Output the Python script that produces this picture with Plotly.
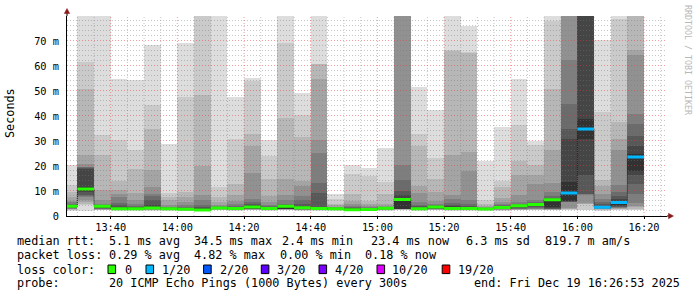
import pandas as pd
import plotly.graph_objects as go

DAY = "2025-12-19"
bar_end = ["13:30", "13:35", "13:40", "13:45", "13:50", "13:55", "14:00", "14:05",
           "14:10", "14:15", "14:20", "14:25", "14:30", "14:35", "14:40", "14:45",
           "14:50", "14:55", "15:00", "15:05", "15:10", "15:15", "15:20", "15:25",
           "15:30", "15:35", "15:40", "15:45", "15:50", "15:55", "16:00", "16:05",
           "16:10", "16:15", "16:20"]

# 20 sorted ping RTTs per 5-minute step (ms); values above 80 are clipped at the top
s1330 = [2.0, 2.3, 2.5, 2.7, 2.9, 3.0, 3.2, 3.4, 3.6, 3.8, 4.0, 4.2, 4.5, 5.0, 5.5, 5.9, 7.6, 9.6, 12.3, 20.3]
s1335 = [2.0, 4.6, 4.9, 5.5, 6.5, 7.6, 7.9, 8.3, 9.6, 10.2, 11.6, 19.0, 19.3, 19.5, 19.7, 20.7, 24.3, 50.7, 61.6, 95.0]
s1340 = [2.3, 2.4, 2.5, 2.6, 2.7, 2.8, 3.0, 3.2, 3.5, 3.8, 4.0, 4.1, 4.3, 4.5, 4.9, 6.6, 10.3, 24.3, 32.3, 95.0]
s1345 = [2.2, 2.3, 2.4, 2.5, 2.5, 2.6, 2.6, 2.7, 2.7, 2.8, 3.2, 3.8, 4.5, 5.2, 7.6, 8.9, 10.5, 14.0, 30.3, 54.9]
s1350 = [2.2, 2.3, 2.4, 2.5, 2.5, 2.6, 2.6, 2.7, 2.7, 2.8, 3.2, 3.5, 3.8, 4.2, 4.9, 6.5, 9.2, 19.0, 26.3, 54.3]
s1355 = [2.2, 2.3, 2.4, 2.5, 2.6, 2.7, 2.8, 2.9, 2.9, 3.0, 3.5, 4.5, 6.5, 8.0, 9.0, 11.6, 18.3, 34.7, 44.3, 68.5]
s1400 = [2.2, 2.3, 2.4, 2.4, 2.5, 2.5, 2.6, 2.6, 2.7, 2.8, 3.0, 3.1, 3.3, 3.5, 3.8, 4.5, 6.3, 7.6, 9.2, 28.7]
s1405 = [2.1, 2.2, 2.3, 2.3, 2.4, 2.4, 2.5, 2.5, 2.6, 2.7, 2.9, 3.1, 3.4, 3.8, 4.5, 5.6, 7.6, 9.6, 47.6, 69.3]
s1410 = [2.0, 2.1, 2.1, 2.2, 2.2, 2.3, 2.3, 2.3, 2.4, 2.4, 2.6, 3.0, 3.6, 4.5, 6.3, 8.3, 20.0, 48.3, 95.0, 95.0]
s1415 = [2.3, 2.4, 2.5, 2.6, 2.7, 2.8, 2.9, 3.0, 3.0, 3.1, 3.3, 3.4, 3.6, 3.8, 4.0, 4.5, 5.6, 7.6, 11.6, 95.0]
s1420 = [2.2, 2.3, 2.4, 2.5, 2.6, 2.6, 2.7, 2.8, 2.8, 2.9, 3.2, 3.4, 3.7, 4.2, 4.9, 6.0, 8.3, 13.0, 31.0, 47.6]
s1425 = [2.3, 2.4, 2.5, 2.6, 2.7, 2.8, 2.9, 3.0, 3.0, 3.4, 3.8, 4.3, 5.0, 5.5, 6.9, 17.3, 28.0, 32.7, 54.0, 55.2]
s1430 = [2.2, 2.3, 2.4, 2.5, 2.5, 2.6, 2.7, 2.8, 2.8, 2.9, 3.1, 3.3, 3.5, 3.9, 4.5, 5.6, 7.9, 14.9, 23.9, 30.3]
s1435 = [2.3, 2.4, 2.5, 2.6, 2.7, 2.7, 2.8, 2.8, 2.9, 3.0, 4.0, 4.2, 4.5, 5.0, 6.3, 8.3, 14.9, 39.3, 69.3, 95.0]
s1440 = [2.2, 2.3, 2.4, 2.5, 2.5, 2.6, 2.7, 2.7, 2.8, 3.0, 3.7, 4.2, 5.0, 6.3, 7.9, 11.9, 13.9, 31.6, 40.5, 49.2]
s1445 = [2.2, 2.3, 2.4, 2.4, 2.5, 2.5, 2.6, 2.7, 2.7, 2.8, 3.2, 3.6, 9.2, 13.2, 25.2, 30.3, 54.9, 60.7, 60.7, 95.0]
s1450 = [2.2, 2.3, 2.4, 2.4, 2.5, 2.5, 2.6, 2.6, 2.7, 2.8, 3.0, 3.1, 3.2, 3.3, 3.5, 3.8, 4.3, 4.9, 6.9, 8.7]
s1455 = [2.0, 2.1, 2.1, 2.2, 2.2, 2.3, 2.3, 2.3, 2.4, 2.4, 2.7, 2.9, 3.2, 3.6, 4.2, 4.9, 6.0, 9.0, 17.0, 20.3]
s1500 = [2.0, 2.1, 2.2, 2.2, 2.3, 2.3, 2.4, 2.4, 2.5, 2.5, 2.7, 2.8, 2.9, 3.1, 3.5, 4.0, 4.8, 6.0, 16.0, 19.1]
s1505 = [2.2, 2.3, 2.4, 2.5, 2.6, 2.7, 2.8, 2.8, 2.9, 3.0, 3.2, 3.3, 3.4, 3.5, 3.8, 4.2, 4.8, 8.8, 13.6, 27.3]
s1510 = [2.3, 2.5, 2.6, 2.7, 2.8, 2.9, 2.9, 3.0, 3.0, 3.0, 7.0, 8.3, 10.0, 14.3, 20.3, 95.0, 95.0, 95.0, 95.0, 95.0]
s1515 = [2.2, 2.3, 2.4, 2.5, 2.5, 2.6, 2.6, 2.7, 2.7, 2.8, 3.1, 3.4, 3.9, 4.5, 5.6, 9.2, 12.0, 28.0, 33.0, 51.5]
s1520 = [2.3, 2.4, 2.5, 2.6, 2.7, 2.8, 2.9, 3.0, 3.2, 3.4, 3.7, 3.8, 4.0, 4.4, 5.0, 6.2, 9.6, 14.9, 23.2, 42.3]
s1525 = [2.2, 2.3, 2.4, 2.5, 2.5, 2.6, 2.7, 2.8, 2.8, 2.9, 3.2, 3.9, 4.5, 5.3, 6.9, 8.3, 24.3, 66.0, 66.3, 95.0]
s1530 = [2.2, 2.3, 2.4, 2.5, 2.5, 2.6, 2.7, 2.8, 2.8, 2.9, 3.2, 3.6, 4.2, 4.7, 6.3, 18.0, 25.6, 65.3, 65.6, 76.0]
s1535 = [2.2, 2.3, 2.4, 2.4, 2.5, 2.5, 2.6, 2.6, 2.7, 2.7, 2.9, 3.0, 3.1, 3.2, 3.4, 3.6, 4.0, 4.7, 6.3, 22.0]
s1540 = [2.2, 2.3, 2.4, 2.5, 2.6, 2.7, 2.8, 2.9, 3.0, 3.3, 3.6, 3.8, 4.0, 4.3, 4.8, 5.6, 7.3, 11.8, 14.0, 35.6]
s1545 = [2.3, 2.4, 2.5, 2.6, 2.7, 2.8, 2.9, 3.1, 3.5, 4.0, 4.2, 4.4, 4.6, 5.0, 5.6, 8.3, 16.3, 22.0, 36.3, 54.8]
s1550 = [2.4, 2.5, 2.6, 2.7, 2.8, 3.0, 3.2, 3.5, 4.0, 4.4, 4.7, 4.9, 5.2, 5.6, 6.5, 13.0, 16.3, 20.3, 28.5, 30.0]
s1555 = [2.3, 2.4, 2.5, 2.6, 2.7, 2.8, 2.9, 3.0, 3.2, 3.5, 6.7, 6.9, 7.2, 8.0, 9.6, 13.2, 26.3, 51.0, 78.0, 95.0]
s1600 = [2.4, 2.6, 2.8, 3.0, 3.4, 5.5, 5.7, 5.8, 5.9, 6.0, 13.6, 30.7, 35.0, 44.7, 62.3, 95.0, 95.0, 95.0, 95.0, 95.0]
s1605 = [2.3, 2.5, 4.9, 5.0, 5.1, 8.6, 8.7, 8.9, 16.3, 31.0, 38.7, 95.0, 95.0, 95.0, 95.0, 95.0, 95.0, 95.0, 95.0, 95.0]
s1610 = [2.2, 2.4, 2.6, 2.8, 2.9, 3.0, 3.1, 3.1, 3.2, 3.3, 3.8, 4.2, 4.8, 5.6, 6.9, 8.9, 11.9, 14.5, 41.6, 70.3]
s1615 = [2.3, 2.5, 2.7, 2.9, 3.1, 3.3, 3.5, 3.8, 4.0, 4.6, 6.2, 6.9, 7.9, 9.6, 12.3, 26.3, 30.7, 37.6, 79.0, 95.0]
s1620 = [2.3, 2.6, 3.0, 3.5, 4.0, 5.2, 8.9, 12.7, 16.3, 18.0, 24.7, 28.0, 31.9, 36.9, 40.9, 64.3, 66.5, 95.0, 95.0, 95.0]

pings = [s1330, s1335, s1340, s1345, s1350, s1355, s1400, s1405, s1410, s1415,
         s1420, s1425, s1430, s1435, s1440, s1445, s1450, s1455, s1500, s1505,
         s1510, s1515, s1520, s1525, s1530, s1535, s1540, s1545, s1550, s1555,
         s1600, s1605, s1610, s1615, s1620]

median_ms = [3.9, 10.8, 3.9, 2.9, 2.9, 3.2, 2.9, 2.7, 2.4, 3.2,
             3.0, 3.6, 3.0, 3.9, 3.3, 3.0, 2.9, 2.5, 2.6, 3.1,
             6.6, 2.9, 3.6, 3.0, 3.0, 2.8, 3.4, 4.1, 4.6, 6.5,
             9.2, 34.8, 3.5, 5.4, 23.6]
loss_of20 = [0, 0, 0, 0, 0, 0, 0, 0, 0, 0,
             0, 0, 0, 0, 0, 0, 0, 0, 0, 0,
             0, 0, 0, 0, 0, 0, 0, 0, 0, 0,
             1, 1, 1, 1, 1]

loss_levels = [0, 1, 2, 3, 4, 10, 19]
loss_names = ["0", "1/20", "2/20", "3/20", "4/20", "10/20", "19/20"]
loss_colors = ["#26ff00", "#00b8ff", "#0059ff", "#5e00ff", "#7e00ff", "#dd00ff", "#ff0000"]

y_ticks = [0, 10, 20, 30, 40, 50, 60, 70]
y_labels = ["0", "10 m", "20 m", "30 m", "40 m", "50 m", "60 m", "70 m"]
x_ticks = ["13:40", "14:00", "14:20", "14:40", "15:00", "15:20", "15:40", "16:00", "16:20"]

stats_line1 = [("median rtt:", 16.4), ("5.1 ms avg", 107.6), ("34.5 ms max", 193.3),
               ("2.4 ms min", 280.9), ("23.4 ms now", 369.8), ("6.3 ms sd", 465.3),
               ("819.7 m am/s", 544.4)]
stats_line2 = [("packet loss:", 16.4), ("0.29 % avg", 107.6), ("4.82 % max", 193.3),
               ("0.00 % min", 279.0), ("0.18 % now", 364.4)]
legend_box_x = [108.0, 146.0, 203.6, 261.3, 319.0, 377.0, 442.2]
legend_text_x = [123.6, 160.9, 218.7, 276.4, 334.2, 391.1, 456.9]
probe_text = "20 ICMP Echo Pings (1000 Bytes) every 300s"
end_text = "end: Fri Dec 19 16:26:53 2025"

# ---------------------------------------------------------------------------
MONO = "DejaVu Sans Mono"
W, H = 697, 297
PL, PR, PT, PB = 67, 667, 16, 216
YMAX = 80.0

t_start = pd.Timestamp(f"{DAY} 13:26:53")
t_end = pd.Timestamp(f"{DAY} 16:26:53")
step = pd.Timedelta(minutes=5)
ends = [pd.Timestamp(f"{DAY} {t}") for t in bar_end]
starts = [e - step for e in ends]
centers = [e - step / 2 for e in ends]


def fx(px):
    return (px - PL) / (PR - PL)


def fy(py):
    return (PB - py) / (PB - PT)


fig = go.Figure()

# smoke: layer ibot spans ping[ibot] .. ping[21-ibot], darker towards the middle
half = 10
for ibot in range(1, half + 1):
    itop = 21 - ibot
    g = int(190 / half * (half - ibot)) + 50
    lo = [p[ibot - 1] for p in pings]
    hi = [p[itop - 1] for p in pings]
    fig.add_trace(go.Bar(
        x=centers, y=[h - l for h, l in zip(hi, lo)], base=lo,
        width=step.total_seconds() * 1000,
        marker=dict(color=f"rgb({g},{g},{g})", line=dict(width=0)),
        hoverinfo="skip", showlegend=False))

# grid (drawn over the smoke, as rrdtool does)
half_px = 0.5 * YMAX / (PB - PT)
grid_minor = "rgba(120,120,120,0.42)"
grid_major = "rgba(235,60,60,0.5)"
gx_min, gy_min, gx_maj, gy_maj = [], [], [], []
t = pd.Timestamp(f"{DAY} 13:30")
while t <= t_end:
    if t.minute % 20 == 0:
        gx_maj += [t, t, None]; gy_maj += [0, YMAX, None]
    else:
        gx_min += [t, t, None]; gy_min += [0, YMAX, None]
    t += step
hx_min, hy_min, hx_maj, hy_maj = [], [], [], []
for v in range(2, 80, 2):
    if v % 10 == 0:
        hx_maj += [t_start, t_end, None]; hy_maj += [v + half_px, v + half_px, None]
    else:
        hx_min += [t_start, t_end, None]; hy_min += [v + half_px, v + half_px, None]
for xs, ys, col in [(gx_min, gy_min, grid_minor), (hx_min, hy_min, grid_minor),
                    (gx_maj, gy_maj, grid_major), (hx_maj, hy_maj, grid_major)]:
    fig.add_trace(go.Scatter(x=xs, y=ys, mode="lines",
                             line=dict(color=col, width=1, dash="1px,2px"),
                             hoverinfo="skip", showlegend=False))

# median step line (dark, dotted joins) and loss-coloured median segments
fig.add_trace(go.Scatter(
    x=starts + [ends[-1]], y=median_ms + [median_ms[-1]], mode="lines",
    line=dict(shape="hv", color="#202020", width=1, dash="1px,1px"),
    hoverinfo="skip", showlegend=False))
for lvl, col in zip(loss_levels, loss_colors):
    xs, ys = [], []
    for s, e, m, l in zip(starts, ends, median_ms, loss_of20):
        if l == lvl:
            xs += [s, e, None]
            ys += [m, m, None]
    if xs:
        fig.add_trace(go.Scatter(x=xs, y=ys, mode="lines",
                                 line=dict(color=col, width=3),
                                 hoverinfo="skip", showlegend=False))

fig.update_layout(
    width=W, height=H,
    margin=dict(l=PL, r=W - PR, t=PT, b=H - PB, pad=0),
    paper_bgcolor="white", plot_bgcolor="white",
    barmode="overlay", bargap=0, showlegend=False,
    font=dict(family=MONO, size=10.3, color="black"),
)
fig.update_xaxes(
    type="date", range=[t_start, t_end], showgrid=False, zeroline=False,
    tickvals=[pd.Timestamp(f"{DAY} {t}") for t in x_ticks], ticktext=x_ticks,
    ticks="outside", ticklen=2, tickcolor="black", tickwidth=1,
    showline=True, linecolor="black", linewidth=1,
    tickfont=dict(family=MONO, size=10.3, color="black"),
)
fig.update_yaxes(
    range=[0, YMAX], showgrid=False, zeroline=False,
    tickvals=y_ticks, ticktext=y_labels, ticks="", ticklabelstandoff=5,
    showline=True, linecolor="black", linewidth=1,
    tickfont=dict(family=MONO, size=10.3, color="black"),
)

arrow_col = "#8b1a1a"
shapes = [
    dict(type="line", xref="paper", yref="paper", x0=fx(PL), x1=fx(PL), y0=fy(PT), y1=fy(12.5),
         line=dict(color="black", width=1)),
    dict(type="path", xref="paper", yref="paper",
         path=f"M {fx(64.3)},{fy(13.5)} L {fx(69.7)},{fy(13.5)} L {fx(67)},{fy(8.5)} Z",
         fillcolor=arrow_col, line=dict(color=arrow_col, width=0.5)),
    dict(type="line", xref="paper", yref="paper", x0=fx(PR), x1=fx(669), y0=0, y1=0,
         line=dict(color="black", width=1)),
    dict(type="path", xref="paper", yref="paper",
         path=f"M {fx(668.5)},{fy(213.3)} L {fx(668.5)},{fy(218.7)} L {fx(673.5)},{fy(216)} Z",
         fillcolor=arrow_col, line=dict(color=arrow_col, width=0.5)),
]
for bx, col in zip(legend_box_x, loss_colors):
    shapes.append(dict(type="rect", xref="paper", yref="paper",
                       x0=fx(bx), x1=fx(bx + 7.6), y0=fy(273.6), y1=fy(265.0),
                       fillcolor=col, line=dict(color="black", width=1)))
fig.update_layout(shapes=shapes)

LEG = 11.8


def note(text, px, py, anchor="left", size=LEG, color="black", angle=0):
    fig.add_annotation(x=fx(px), y=fy(py), xref="paper", yref="paper", text=text,
                       showarrow=False, xanchor=anchor, yanchor="middle", borderpad=0,
                       textangle=angle, font=dict(family=MONO, size=size, color=color))


for txt, px in stats_line1:
    note(txt, px, 241.0)
for txt, px in stats_line2:
    note(txt, px, 255.3)
note("loss color:", 16.4, 269.7)
for txt, px in zip(loss_names, legend_text_x):
    note(txt, px, 269.7)
note("probe:", 16.4, 283.3)
note(probe_text, 107.6, 283.3)
note(end_text, 681.0, 283.3, anchor="right")

fig.add_annotation(x=fx(10), y=fy(113), xref="paper", yref="paper", text="Seconds",
                   showarrow=False, textangle=-90, xanchor="center", yanchor="middle",
                   font=dict(family=MONO, size=LEG, color="black"))
fig.add_annotation(x=fx(688), y=fy(60), xref="paper", yref="paper",
                   text="RRDTOOL / TOBI OETIKER", showarrow=False, textangle=90,
                   xanchor="center", yanchor="middle",
                   font=dict(family=MONO, size=8.3, color="#b8b8b8"))

fig.write_html("out.html")
